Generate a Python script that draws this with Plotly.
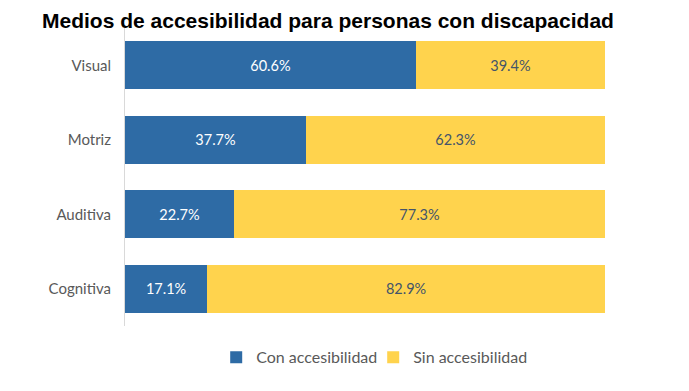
import plotly.graph_objects as go

categories = ["Visual", "Motriz", "Auditiva", "Cognitiva"]
con_acc = [60.6, 37.7, 22.7, 17.1]
sin_acc = [39.4, 62.3, 77.3, 82.9]
series_names = ["Con accesibilidad", "Sin accesibilidad"]

blue = "#2E6BA5"
yellow = "#FFD34D"
font_fam = "Lato, 'Open Sans', sans-serif"

fig = go.Figure()
fig.add_trace(go.Bar(
    y=categories, x=con_acc, orientation="h", name=series_names[0],
    marker=dict(color=blue, line=dict(width=0)),
    text=[f"{v:.1f}%" for v in con_acc], textposition="inside",
    insidetextanchor="middle",
    textfont=dict(color="white", size=14.5, family=font_fam),
))
fig.add_trace(go.Bar(
    y=categories, x=sin_acc, orientation="h", name=series_names[1],
    marker=dict(color=yellow, line=dict(width=0)),
    text=[f"{v:.1f}%" for v in sin_acc], textposition="inside",
    insidetextanchor="middle",
    textfont=dict(color="#44546A", size=14.5, family=font_fam),
))

fig.update_layout(
    barmode="stack",
    bargap=0.36,
    width=689, height=391,
    margin=dict(l=125, r=84, t=28, b=65, autoexpand=False),
    paper_bgcolor="white", plot_bgcolor="white",
    title=dict(text="<b>Medios de accesibilidad para personas con discapacidad</b>",
               x=0.476, xanchor="center", y=0.948, yanchor="middle",
               font=dict(family="Liberation Sans, Arial, sans-serif", size=21, color="black")),
    xaxis=dict(range=[0, 100], showgrid=False, showticklabels=False, zeroline=False,
               showline=False, fixedrange=True, automargin=False),
    yaxis=dict(autorange="reversed", showgrid=False, showline=True, linecolor="#D9D9D9",
               linewidth=1, ticks="", ticklabelstandoff=10, automargin=False,
               fixedrange=True,
               tickfont=dict(family=font_fam, size=15, color="#595959")),
    legend=dict(orientation="h", x=0.19, xanchor="left", y=-0.048, yanchor="top",
                font=dict(family=font_fam, size=16, color="#595959"),
                entrywidth=112, entrywidthmode="pixels", traceorder="normal"),
    showlegend=True,
)

fig.write_html("out.html", config={"displayModeBar": False},
               post_script="document.body.style.margin='0';")
